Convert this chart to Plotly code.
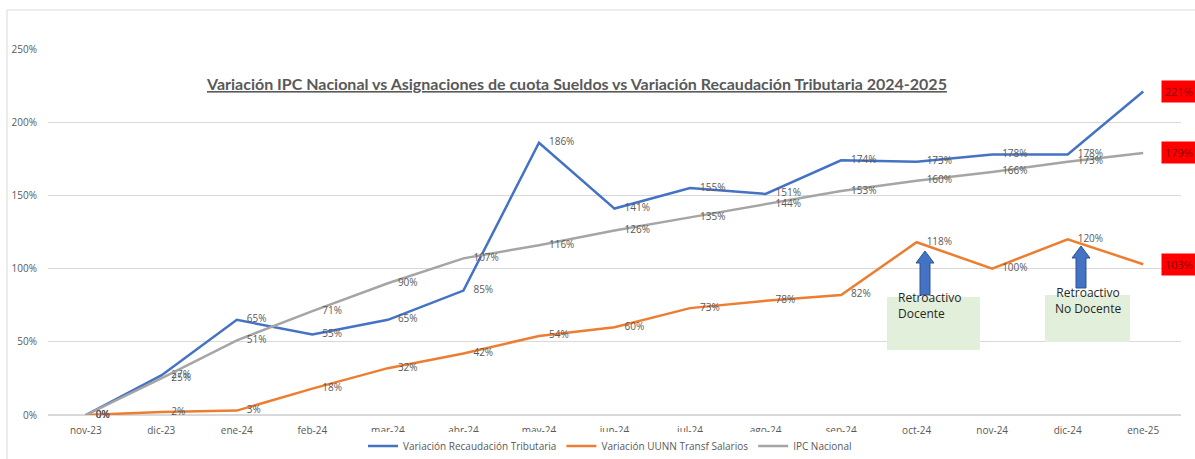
import plotly.graph_objects as go

months = ["nov-23", "dic-23", "ene-24", "feb-24", "mar-24", "abr-24", "may-24", "jun-24",
          "jul-24", "ago-24", "sep-24", "oct-24", "nov-24", "dic-24", "ene-25"]
recaudacion = [0, 27, 65, 55, 65, 85, 186, 141, 155, 151, 174, 173, 178, 178, 221]
uunn_salarios = [0, 2, 3, 18, 32, 42, 54, 60, 73, 78, 82, 118, 100, 120, 103]
ipc = [0, 25, 51, 71, 90, 107, 116, 126, 135, 144, 153, 160, 166, 173, 179]

names = ["Variación Recaudación Tributaria", "Variación UUNN Transf Salarios", "IPC Nacional"]
colors = ["#4472C4", "#ED7D31", "#A5A5A5"]
series = [recaudacion, uunn_salarios, ipc]

W, H = 1195, 459
L, R, T, B = 48, 14, 49, 44
pw, ph = W - L - R, H - T - B


def px(x):
    return (x - L) / pw


def py(y):
    return (H - B - y) / ph


fig = go.Figure()
for name, col, vals in zip(names, colors, series):
    fr = [v / 100 for v in vals]
    labels = [f"\u2002\u2002{v}%" for v in vals[:-1]] + [""]
    fig.add_trace(go.Scatter(
        x=list(range(len(months))), y=fr, name=name, mode="lines+text",
        line=dict(color=col, width=2.5),
        text=labels, textposition="middle right",
        textfont=dict(family="Open Sans", size=10, color="#595959"),
        cliponaxis=False,
    ))

annotations = []
# end labels in red boxes
for vals in series:
    annotations.append(dict(
        x=len(months) - 1, y=vals[-1] / 100, xref="x", yref="y",
        text=f"{vals[-1]}%", showarrow=False, xanchor="left", xshift=18,
        font=dict(family="Open Sans", size=11, color="#8B0000"),
        bgcolor="#FF0000", borderpad=3,
    ))

# title
annotations.append(dict(
    x=px(576), y=py(72), xref="paper", yref="paper",
    text="<b><u>Variación IPC Nacional vs Asignaciones de cuota Sueldos vs Variación Recaudación Tributaria 2024-2025</u></b>",
    showarrow=False, font=dict(family="Lato", size=16, color="#595959"),
))

shapes = []
# frame
shapes.append(dict(type="rect", xref="paper", yref="paper",
                   x0=px(7), x1=px(1300), y0=py(600), y1=py(10),
                   line=dict(color="#D9D9D9", width=1), layer="below"))

# note boxes
boxes = [
    (887, 980, 297, 350, "Retroactivo<br>Docente", "left"),
    (1045, 1130, 295, 342, "Retroactivo<br>No Docente", "center"),
]
for x0, x1, y0, y1, txt, al in boxes:
    shapes.append(dict(type="rect", xref="paper", yref="paper",
                       x0=px(x0), x1=px(x1), y0=py(y1), y1=py(y0),
                       fillcolor="#E2EFDA", line=dict(width=0)))
    if al == "left":
        annotations.append(dict(x=px(x0 + 9), y=py((y0 + y1) / 2), xref="paper", yref="paper",
                                text=txt, showarrow=False, xanchor="left", align="left",
                                font=dict(family="Open Sans", size=12, color="#262626")))
    else:
        annotations.append(dict(x=px((x0 + x1) / 2), y=py((y0 + y1) / 2), xref="paper", yref="paper",
                                text=txt, showarrow=False, xanchor="center", align="center",
                                font=dict(family="Open Sans", size=12, color="#262626")))

# block arrows pointing up
for cx, ytop, ybot in [(925, 251, 295), (1081, 246, 288)]:
    sw, hw, hh = 5, 9, 12
    pts = [(cx - sw, ybot), (cx - sw, ytop + hh), (cx - hw, ytop + hh), (cx, ytop),
           (cx + hw, ytop + hh), (cx + sw, ytop + hh), (cx + sw, ybot)]
    path = "M " + " L ".join(f"{px(a):.5f},{py(b):.5f}" for a, b in pts) + " Z"
    shapes.append(dict(type="path", xref="paper", yref="paper", path=path,
                       fillcolor="#4472C4", line=dict(color="#2F528F", width=1)))

fig.update_layout(
    width=W, height=H,
    margin=dict(l=L, r=R, t=T, b=B, autoexpand=False),
    paper_bgcolor="white", plot_bgcolor="white",
    showlegend=True,
    legend=dict(orientation="h", x=px(610), xanchor="center", y=py(446), yanchor="middle",
                font=dict(family="Open Sans", size=10, color="#595959"),
                itemwidth=30),
    xaxis=dict(tickmode="array", tickvals=list(range(len(months))), ticktext=months,
               range=[-0.5, len(months) - 0.5], showgrid=False, zeroline=False,
               showline=False, ticks="", automargin=False, ticklabelstandoff=8,
               tickfont=dict(family="Open Sans", size=10, color="#595959")),
    yaxis=dict(range=[0, 2.5], dtick=0.5, tickformat=".0%", showgrid=True,
               gridcolor="#D9D9D9", gridwidth=1, zeroline=True, zerolinecolor="#D9D9D9",
               showline=False, ticks="", automargin=False, ticklabelstandoff=10,
               tickfont=dict(family="Open Sans", size=10, color="#595959")),
    annotations=annotations, shapes=shapes,
)

fig.write_html("out.html", config={"displayModeBar": False},
               post_script="document.body.style.margin='0';document.body.style.overflow='hidden';")
